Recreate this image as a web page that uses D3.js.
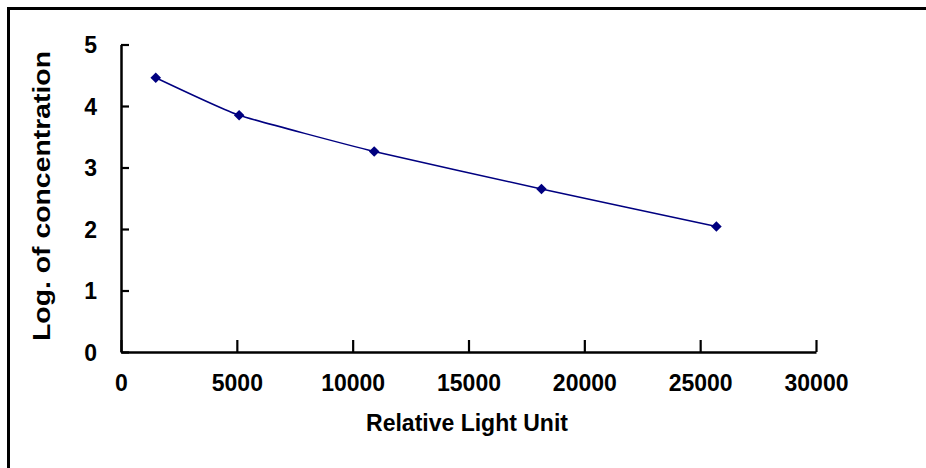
<!DOCTYPE html>
<html>
<head>
<meta charset="utf-8">
<script src="https://cdn.jsdelivr.net/npm/d3@7"></script>
<style>
  html, body { margin: 0; padding: 0; background: #fff; }
  svg { display: block; }
  text { font-family: "Liberation Sans", Arial, sans-serif; font-weight: bold; fill: #000; }
</style>
</head>
<body>
<svg></svg>
<script>
const width = 926;
const height = 468;

// -----------------------------
// DATA
// -----------------------------
const rlu = [1500, 5100, 10930, 18150, 25700];
const logConc = [4.46, 3.85, 3.26, 2.65, 2.04];
const xTicks = [0, 5000, 10000, 15000, 20000, 25000, 30000];
const yTicks = [0, 1, 2, 3, 4, 5];

const points = rlu.map((v, i) => ({ x: v, y: logConc[i] }));

const svg = d3.select("svg")
  .attr("width", width)
  .attr("height", height);

svg.append("rect")
  .attr("width", width)
  .attr("height", height)
  .attr("fill", "#fff");

// frame (only top and left visible)
svg.append("path")
  .attr("d", `M8.5,${height} L8.5,8.5 L${width},8.5`)
  .attr("fill", "none")
  .attr("stroke", "#000")
  .attr("stroke-width", 3);

// -----------------------------
// SCALES
// -----------------------------
const x = d3.scaleLinear().domain([0, 30000]).range([121, 816]);
const y = d3.scaleLinear().domain([0, 5]).range([352, 44.5]);

// -----------------------------
// AXES
// -----------------------------
const xAxis = svg.append("g")
  .attr("transform", `translate(0, ${y(0)})`)
  .call(d3.axisBottom(x).tickValues(xTicks).tickFormat(d3.format("d"))
    .tickSizeInner(-12).tickSizeOuter(0).tickPadding(0));

xAxis.select(".domain").attr("stroke-width", 2.5);
xAxis.selectAll(".tick line").attr("stroke-width", 2.2);
xAxis.selectAll(".tick text")
  .attr("y", 39)
  .attr("dy", 0)
  .style("font-size", "23px")
  .style("font-family", "Liberation Sans, Arial, sans-serif")
  .style("font-weight", "bold");

const yAxis = svg.append("g")
  .attr("transform", `translate(${x(0)}, 0)`)
  .call(d3.axisLeft(y).tickValues(yTicks).tickFormat(d3.format("d"))
    .tickSizeInner(-8).tickSizeOuter(0).tickPadding(0));

yAxis.select(".domain").attr("stroke-width", 2.5);
yAxis.selectAll(".tick line").attr("stroke-width", 2.2);
yAxis.selectAll(".tick text")
  .attr("x", -24)
  .attr("dy", "0.36em")
  .style("font-size", "23px")
  .style("font-family", "Liberation Sans, Arial, sans-serif")
  .style("font-weight", "bold");

// -----------------------------
// TITLES
// -----------------------------
svg.append("text")
  .attr("x", 467)
  .attr("y", 431)
  .attr("text-anchor", "middle")
  .style("font-size", "23px")
  .text("Relative Light Unit");

svg.append("text")
  .attr("transform", "translate(50, 196) rotate(-90)")
  .attr("text-anchor", "middle")
  .attr("textLength", 290)
  .attr("lengthAdjust", "spacingAndGlyphs")
  .style("font-size", "24px")
  .text("Log. of concentration");

// -----------------------------
// CURVE
// -----------------------------
const line = d3.line()
  .x(d => x(d.x))
  .y(d => y(d.y))
  .curve(d3.curveCardinal.tension(0.6));

svg.append("path")
  .datum(points)
  .attr("d", line)
  .attr("fill", "none")
  .attr("stroke", "#000080")
  .attr("stroke-width", 1.5);

svg.append("g")
  .selectAll("path")
  .data(points)
  .join("path")
  .attr("d", d3.symbol(d3.symbolSquare, 56))
  .attr("transform", d => `translate(${x(d.x)}, ${y(d.y)}) rotate(45)`)
  .attr("fill", "#000080");
</script>
</body>
</html>
